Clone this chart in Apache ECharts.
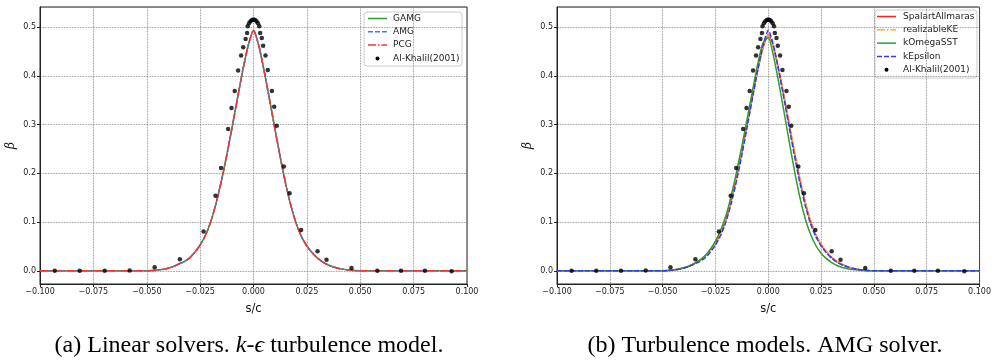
<!DOCTYPE html>
<html>
<head>
<meta charset="utf-8">
<script src="https://cdn.jsdelivr.net/npm/echarts@6/dist/echarts.min.js"></script>
<style>
  html, body { margin: 0; padding: 0; background: #fff; }
  #chart { width: 994px; height: 360px; }
</style>
</head>
<body>
<div id="chart"></div>
<script>
// s/c positions of the simulated curves
var sGrid = [-0.1,
  -0.05, -0.0475, -0.045, -0.0425, -0.04, -0.0375, -0.035, -0.0325, -0.03, -0.0275,
  -0.025, -0.0225, -0.02, -0.0175, -0.015, -0.0125, -0.01, -0.0075, -0.005, -0.0025,
  0,
  0.0025, 0.005, 0.0075, 0.01, 0.0125, 0.015, 0.0175, 0.02, 0.0225, 0.025,
  0.0275, 0.03, 0.0325, 0.035, 0.0375, 0.04, 0.0425, 0.045, 0.0475, 0.05,
  0.1];

// (a) linear solvers, k-epsilon
var gamg = [0,
  0, 0.0005, 0.0015, 0.003, 0.0055, 0.009, 0.014, 0.019, 0.026, 0.038,
  0.053, 0.073, 0.101, 0.139, 0.185, 0.238, 0.295, 0.354, 0.412, 0.462,
  0.494,
  0.462, 0.410, 0.352, 0.292, 0.234, 0.180, 0.134, 0.097, 0.070, 0.051,
  0.037, 0.026, 0.018, 0.012, 0.008, 0.005, 0.003, 0.0015, 0.0005, 0,
  0];
var amg = [0,
  0, 0.0005, 0.0015, 0.003, 0.0055, 0.009, 0.014, 0.019, 0.026, 0.038,
  0.053, 0.073, 0.101, 0.139, 0.185, 0.238, 0.295, 0.354, 0.412, 0.462,
  0.494,
  0.462, 0.410, 0.352, 0.292, 0.234, 0.180, 0.134, 0.097, 0.070, 0.051,
  0.037, 0.026, 0.018, 0.012, 0.008, 0.005, 0.003, 0.0015, 0.0005, 0,
  0];
var pcg = [0,
  0, 0.0005, 0.0015, 0.003, 0.0055, 0.009, 0.014, 0.019, 0.026, 0.038,
  0.053, 0.073, 0.101, 0.139, 0.185, 0.238, 0.295, 0.354, 0.412, 0.462,
  0.494,
  0.462, 0.410, 0.352, 0.292, 0.234, 0.180, 0.134, 0.097, 0.070, 0.051,
  0.037, 0.026, 0.018, 0.012, 0.008, 0.005, 0.003, 0.0015, 0.0005, 0,
  0];

// (b) turbulence models, AMG
var spalartAllmaras = [0,
  0, 0.0006, 0.0017, 0.0033, 0.0058, 0.0095, 0.015, 0.021, 0.030, 0.042,
  0.057, 0.078, 0.106, 0.145, 0.192, 0.245, 0.301, 0.358, 0.412, 0.458,
  0.485,
  0.458, 0.411, 0.357, 0.299, 0.241, 0.187, 0.140, 0.102, 0.074, 0.054,
  0.039, 0.028, 0.019, 0.013, 0.0085, 0.0055, 0.0033, 0.0016, 0.0005, 0,
  0];
var realizableKE = [0,
  0, 0.0006, 0.0017, 0.0034, 0.0058, 0.0094, 0.0145, 0.021, 0.030, 0.042,
  0.057, 0.078, 0.107, 0.146, 0.193, 0.246, 0.302, 0.358, 0.411, 0.457,
  0.484,
  0.457, 0.411, 0.358, 0.300, 0.242, 0.188, 0.141, 0.103, 0.075, 0.055,
  0.040, 0.028, 0.019, 0.013, 0.0087, 0.0056, 0.0034, 0.0017, 0.0005, 0,
  0];
var kOmegaSST = [0,
  0, 0.0008, 0.002, 0.0038, 0.0065, 0.010, 0.0155, 0.022, 0.031, 0.044,
  0.061, 0.084, 0.114, 0.155, 0.203, 0.256, 0.312, 0.369, 0.424, 0.468,
  0.479,
  0.440, 0.385, 0.325, 0.263, 0.203, 0.150, 0.107, 0.075, 0.052, 0.036,
  0.025, 0.017, 0.011, 0.007, 0.0045, 0.0028, 0.0016, 0.0008, 0.0002, 0,
  0];
var kEpsilon = [0,
  0, 0.0005, 0.0015, 0.003, 0.0055, 0.009, 0.014, 0.019, 0.026, 0.038,
  0.053, 0.073, 0.101, 0.139, 0.185, 0.238, 0.295, 0.354, 0.412, 0.462,
  0.494,
  0.462, 0.410, 0.352, 0.292, 0.234, 0.180, 0.134, 0.097, 0.070, 0.051,
  0.037, 0.026, 0.018, 0.012, 0.008, 0.005, 0.003, 0.0015, 0.0005, 0,
  0];

// Al-Khalil (2001) experiment
var expS = [-0.0931, -0.0814, -0.0697, -0.058, -0.0463, -0.0345, -0.0234, -0.0178,
  -0.0152, -0.0119, -0.0103, -0.0088, -0.0072, -0.0058, -0.0048, -0.0037, -0.003,
  -0.0027, -0.0021, -0.0014, -0.0007, 0, 0.0007, 0.0014, 0.0021, 0.0027,
  0.0031, 0.0039, 0.0045, 0.0056, 0.0067, 0.0086, 0.0097, 0.0109, 0.0142, 0.0169,
  0.0223, 0.030, 0.0342, 0.0459, 0.058, 0.0691, 0.0803, 0.0928];
var expBeta = [0, 0, 0, 0.0007, 0.0075, 0.024, 0.081, 0.154,
  0.211, 0.291, 0.334, 0.369, 0.411, 0.442, 0.459, 0.476, 0.488,
  0.502, 0.508, 0.512, 0.515, 0.516, 0.515, 0.512, 0.508, 0.502,
  0.488, 0.478, 0.462, 0.442, 0.412, 0.369, 0.337, 0.298, 0.214, 0.159,
  0.084, 0.040, 0.0226, 0.006, 0, 0, 0, -0.0007];

var captionA = '(a) Linear solvers. {i|k}-{i|ϵ} turbulence model.';
var captionB = '(b) Turbulence models. AMG solver.';
var expName = 'Al-Khalil(2001)';

function pairs(xs, ys) {
  return xs.map(function (x, i) { return [x, ys[i]]; });
}

var tickFont = { fontFamily: 'DejaVu Sans', fontSize: 8, color: '#222' };
var dotted = { type: 'dotted', color: '#777', width: 0.8 };
var DASH = [5, 2];
var DASHDOT = [8, 2, 1.5, 2];

function xAxisFor(idx) {
  return {
    gridIndex: idx, type: 'value', min: -0.1, max: 0.1, interval: 0.025,
    name: 's/c', nameLocation: 'middle', nameGap: 19,
    nameTextStyle: { fontFamily: 'DejaVu Sans', fontSize: 11.5, color: '#111' },
    axisLine: { show: true, onZero: false, lineStyle: { color: '#222', width: 1 } },
    axisTick: { show: true, length: 3, lineStyle: { color: '#222' } },
    axisLabel: Object.assign({ margin: 4, formatter: function (v) {
      return (v < 0 ? '\u2212' : '') + Math.abs(v).toFixed(3);
    } }, tickFont),
    splitLine: { show: true, lineStyle: dotted }
  };
}

function yAxisFor(idx) {
  return {
    gridIndex: idx, type: 'value', min: -0.027, max: 0.5415, splitNumber: 5,
    name: 'β', nameLocation: 'middle', nameGap: 23, nameRotate: 90,
    nameTextStyle: { fontFamily: 'DejaVu Serif', fontStyle: 'italic', fontSize: 12, color: '#111' },
    axisLine: { show: true, onZero: false, lineStyle: { color: '#222', width: 1 } },
    axisTick: { show: true, length: 3, lineStyle: { color: '#222' } },
    axisLabel: Object.assign({ margin: 4, showMinLabel: false, showMaxLabel: false,
      formatter: function (v) {
        var r = Math.round(v * 10) / 10;
        return Math.abs(r - v) < 1e-6 ? r.toFixed(1) : '';
      } }, tickFont),
    splitLine: { show: true, lineStyle: dotted }
  };
}

function lineSeries(name, ys, color, type, idx) {
  return {
    name: name, type: 'line', xAxisIndex: idx, yAxisIndex: idx,
    data: pairs(sGrid, ys), symbol: 'none', smooth: 0.2,
    lineStyle: { color: color, width: 1.5, type: type },
    itemStyle: { color: color }
  };
}

function expSeries(idx) {
  return {
    name: expName, type: 'scatter', xAxisIndex: idx, yAxisIndex: idx,
    data: pairs(expS, expBeta), symbol: 'circle', symbolSize: 4.5, z: 5,
    itemStyle: { color: '#000' }
  };
}

// matplotlib-like legend box drawn as a graphic group
function legendBox(x, y, w, h, iconX, textX, entries) {
  var kids = [{ type: 'rect', shape: { x: 0, y: 0, width: w, height: h, r: 3 },
    style: { fill: 'rgba(255,255,255,0.85)', stroke: '#ccc', lineWidth: 1 } }];
  entries.forEach(function (e, i) {
    var cy = 6.5 + i * 13.3;
    if (e.dot) {
      kids.push({ type: 'circle', shape: { cx: iconX + 9.5, cy: cy, r: 2 }, style: { fill: '#000' } });
    } else {
      kids.push({ type: 'line', shape: { x1: iconX, y1: cy, x2: iconX + 19, y2: cy },
        style: { stroke: e.color, lineWidth: 1.5, lineDash: e.dash || null } });
    }
    kids.push({ type: 'text', x: textX, y: cy, style: { text: e.name, verticalAlign: 'middle',
      fontFamily: 'DejaVu Sans', fontSize: 9, fill: '#222' } });
  });
  return { type: 'group', x: x, y: y, z: 100, children: kids };
}

var option = {
  animation: false,
  backgroundColor: '#fff',
  grid: [
    { left: 40, top: 7, width: 427, height: 277, show: true, borderColor: '#222', borderWidth: 1 },
    { left: 557, top: 7, width: 425, height: 277, show: true, borderColor: '#222', borderWidth: 1 }
  ],
  xAxis: [xAxisFor(0), xAxisFor(1)],
  yAxis: [yAxisFor(0), yAxisFor(1)],
  series: [
    lineSeries('GAMG', gamg, '#2ca02c', 'solid', 0),
    lineSeries('AMG', amg, '#3a86c4', DASH, 0),
    lineSeries('PCG', pcg, '#ff3030', DASHDOT, 0),
    expSeries(0),
    lineSeries('SpalartAllmaras', spalartAllmaras, '#ff2020', 'solid', 1),
    lineSeries('realizableKE', realizableKE, '#ffaa22', DASHDOT, 1),
    lineSeries('kOmegaSST', kOmegaSST, '#2ca02c', 'solid', 1),
    lineSeries('kEpsilon', kEpsilon, '#3535ff', DASH, 1),
    expSeries(1)
  ],
  graphic: [
    legendBox(364, 12, 98, 54, 4, 29, [
      { name: 'GAMG', color: '#2ca02c' },
      { name: 'AMG', color: '#3a86c4', dash: DASH },
      { name: 'PCG', color: '#ff3030', dash: DASHDOT },
      { name: expName, dot: true }
    ]),
    legendBox(875, 10, 102, 68, 2, 28, [
      { name: 'SpalartAllmaras', color: '#ff2020' },
      { name: 'realizableKE', color: '#ffaa22', dash: DASHDOT },
      { name: 'kOmegaSST', color: '#2ca02c' },
      { name: 'kEpsilon', color: '#3535ff', dash: DASH },
      { name: expName, dot: true }
    ]),
    { type: 'text', x: 249, y: 346, style: {
      text: captionA, align: 'center', verticalAlign: 'middle',
      fontFamily: 'Liberation Serif', fontSize: 24, fill: '#000',
      rich: { i: { fontFamily: 'Liberation Serif', fontStyle: 'italic', fontSize: 24, fill: '#000' } }
    } },
    { type: 'text', x: 765, y: 346, style: {
      text: captionB, align: 'center', verticalAlign: 'middle',
      fontFamily: 'Liberation Serif', fontSize: 24, fill: '#000'
    } }
  ]
};

var myChart = echarts.init(document.getElementById('chart'));
myChart.setOption(option);
</script>
</body>
</html>
